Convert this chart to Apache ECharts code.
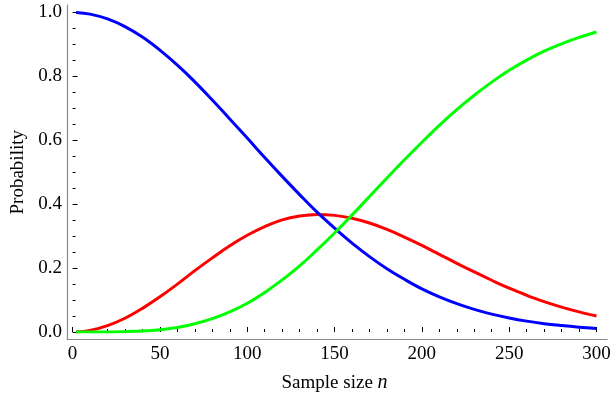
<!DOCTYPE html>
<html>
<head>
<meta charset="utf-8">
<script src="https://cdn.jsdelivr.net/npm/echarts@6/dist/echarts.min.js"></script>
<style>
    html, body { margin: 0; padding: 0; background: #fff; }
    #chart { width: 614px; height: 398px; }
</style>
</head>
<body>
<div id="chart"></div>
<script>
// sample sizes
var sampleSizes = [2, 10, 20, 30, 40, 50, 60, 70, 80, 90, 100, 110, 120, 130, 140, 150,
    160, 170, 180, 190, 200, 210, 220, 230, 240, 250, 260, 270, 280, 290, 300];
// blue curve
var probNone = [1.000, 0.995, 0.980, 0.956, 0.923, 0.882, 0.835, 0.783, 0.726, 0.667, 0.607,
    0.546, 0.487, 0.430, 0.375, 0.325, 0.278, 0.236, 0.198, 0.165, 0.135, 0.110, 0.089,
    0.071, 0.056, 0.044, 0.034, 0.026, 0.020, 0.015, 0.011];
// red curve
var probOne = [0.000, 0.005, 0.020, 0.043, 0.074, 0.110, 0.150, 0.192, 0.232, 0.270, 0.303,
    0.330, 0.351, 0.363, 0.368, 0.365, 0.356, 0.341, 0.321, 0.297, 0.271, 0.243, 0.215,
    0.188, 0.162, 0.137, 0.115, 0.095, 0.078, 0.063, 0.050];
// green curve
var probMore = [0.000, 0.000, 0.000, 0.001, 0.003, 0.007, 0.014, 0.026, 0.042, 0.063, 0.090,
    0.124, 0.163, 0.207, 0.257, 0.310, 0.366, 0.424, 0.482, 0.539, 0.594, 0.647, 0.696,
    0.741, 0.782, 0.819, 0.851, 0.879, 0.902, 0.922, 0.939];
var xTicks = { min: 0, max: 300, step: 50 };
var yTicks = { min: 0, max: 1, step: 0.2 };

var font = 'Liberation Serif';
var axisGray = '#8a8a8a';

function pairs(ys) {
    return sampleSizes.map(function (x, i) { return [x, ys[i]]; });
}

function curve(name, color, ys) {
    return {
        name: name,
        type: 'line',
        xAxisIndex: 0,
        yAxisIndex: 0,
        data: pairs(ys),
        showSymbol: false,
        smooth: 0.4,
        lineStyle: { color: color, width: 3 },
        itemStyle: { color: color }
    };
}

var chart = echarts.init(document.getElementById('chart'));
var option = {
    animation: false,
    backgroundColor: '#fff',
    grid: [
        { left: 72.6, right: 17.5, top: 12.5, bottom: 66 },
        // only used for the longer axis lines
        { left: 67, right: 7, top: 5, bottom: 59 }
    ],
    xAxis: [
        {
            type: 'value',
            gridIndex: 0,
            min: xTicks.min,
            max: xTicks.max,
            interval: xTicks.step,
            offset: 7,
            name: 'Sample size {i|n}',
            nameLocation: 'middle',
            nameGap: 34,
            nameTextStyle: {
                fontFamily: font,
                fontSize: 19,
                color: '#000',
                rich: { i: { fontFamily: font, fontStyle: 'italic', fontSize: 20, color: '#000' } }
            },
            axisLine: { show: false },
            axisTick: { show: true, inside: true, length: 5, lineStyle: { color: '#000' } },
            minorTick: { show: true, splitNumber: 5, length: 3, lineStyle: { color: '#000' } },
            axisLabel: { fontFamily: font, fontSize: 19, color: '#000', margin: 6 },
            splitLine: { show: false }
        },
        {
            type: 'value',
            gridIndex: 1,
            min: 0,
            max: 1,
            axisLine: { show: true, onZero: false, lineStyle: { color: axisGray, width: 1.2 } },
            axisTick: { show: false },
            axisLabel: { show: false },
            splitLine: { show: false }
        }
    ],
    yAxis: [
        {
            type: 'value',
            gridIndex: 0,
            min: yTicks.min,
            max: yTicks.max,
            interval: yTicks.step,
            offset: 5.6,
            name: 'Probability',
            nameLocation: 'middle',
            nameGap: 37,
            nameTextStyle: { fontFamily: font, fontSize: 19, color: '#000' },
            axisLine: { show: false },
            axisTick: { show: true, inside: true, length: 5, lineStyle: { color: '#000' } },
            minorTick: { show: true, splitNumber: 4, length: 3, lineStyle: { color: '#000' } },
            axisLabel: {
                fontFamily: font,
                fontSize: 19,
                color: '#000',
                margin: 5,
                formatter: function (v) { return v.toFixed(1); }
            },
            splitLine: { show: false }
        },
        {
            type: 'value',
            gridIndex: 1,
            min: 0,
            max: 1,
            axisLine: { show: true, onZero: false, lineStyle: { color: axisGray, width: 1.2 } },
            axisTick: { show: false },
            axisLabel: { show: false },
            splitLine: { show: false }
        }
    ],
    series: [
        curve('one', '#ff0000', probOne),
        curve('none', '#0000ff', probNone),
        curve('more', '#00ff00', probMore)
    ]
};
chart.setOption(option);
</script>
</body>
</html>
